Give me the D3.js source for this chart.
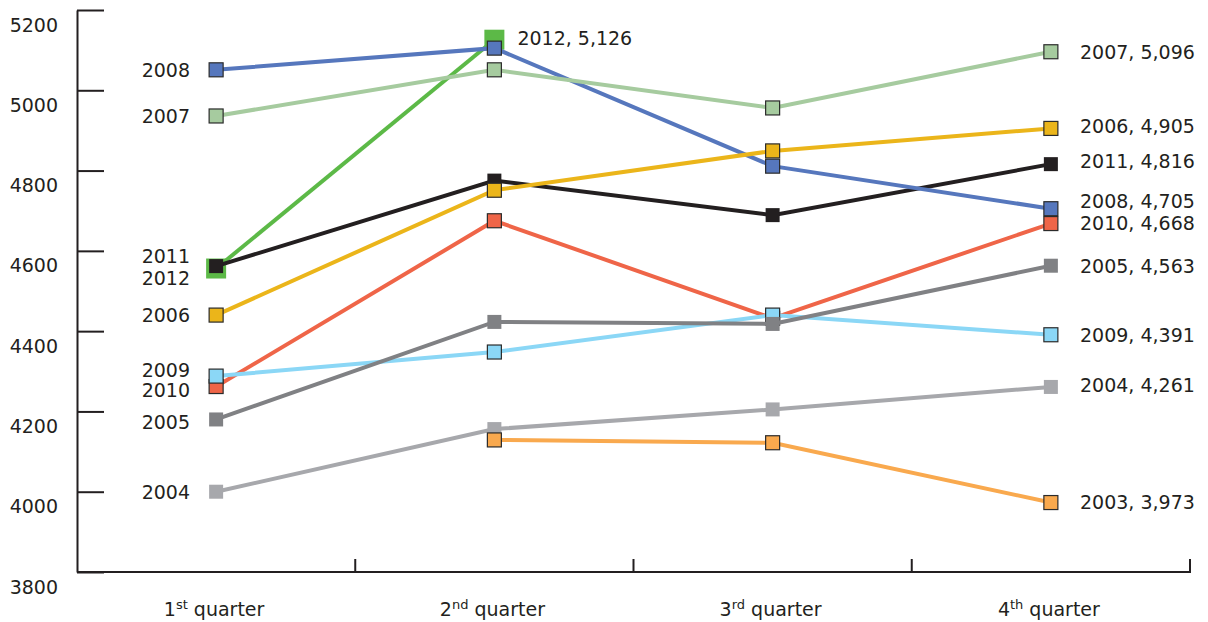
<!DOCTYPE html>
<html lang="en">
  <head>
    <meta charset="UTF-8" />
    <title>Quarterly values by year</title>
    <script src="https://d3js.org/d3.v7.min.js"></script>
    <style>
      html,
      body {
        margin: 0;
        padding: 0;
        background: #ffffff;
      }
      text {
        font-family: "DejaVu Sans", Verdana, sans-serif;
        fill: #231f20;
      }
    </style>
  </head>
  <body>
    <div id="viz"></div>
    <script>
      // data
      const quarters = ["1st", "2nd", "3rd", "4th"];
      const quarterSup = ["st", "nd", "rd", "th"];
      const quarterNum = ["1", "2", "3", "4"];
      const yTicks = [3800, 4000, 4200, 4400, 4600, 4800, 5000, 5200];

      const years = ["2003", "2004", "2005", "2006", "2007", "2008", "2009", "2010", "2011", "2012"];
      const v2003 = [null, 4129, 4122, 3973];
      const v2004 = [4000, 4156, 4205, 4261];
      const v2005 = [4180, 4423, 4418, 4563];
      const v2006 = [4440, 4751, 4849, 4905];
      const v2007 = [4936, 5051, 4956, 5096];
      const v2008 = [5051, 5105, 4811, 4705];
      const v2009 = [4288, 4348, 4440, 4391];
      const v2010 = [4262, 4675, 4432, 4668];
      const v2011 = [4562, 4775, 4689, 4816];
      const v2012 = [4556, 5126, null, null];
      const values = [v2003, v2004, v2005, v2006, v2007, v2008, v2009, v2010, v2011, v2012];

      // styling per year
      const colors = ["#f9a94e", "#a7a8ac", "#808184", "#ebb51a", "#a6cb9f", "#5677bd", "#8bd7f6", "#ef6548", "#231f20", "#5cb947"];
      const bordered = [true, false, false, true, true, true, true, true, false, false];
      const markerSize = [14, 14, 14, 14, 14, 14, 14, 14, 14, 20];
      // small vertical nudges so crowded labels don't collide
      const leftNudge = { 2011: -10, 2012: 10, 2009: -6, 2010: 4, 2005: 3 };
      const rightNudge = { 2008: -8, 2006: -2, 2011: -3, 2004: -2 };

      const width = 1208;
      const height = 622;

      const svg = d3
        .select("#viz")
        .append("svg")
        .attr("width", width)
        .attr("height", height);

      const x = d3.scaleBand().domain(quarters).range([77, 1190]).paddingInner(0).paddingOuter(0);
      const y = d3.scaleLinear().domain([3800, 5200]).range([572, 10]);
      const cx = (q) => x(q) + x.bandwidth() / 2;

      // y axis: ticks point into the plot, labels sit a little below each tick
      const yAxis = d3.axisLeft(y).tickValues(yTicks).tickSizeInner(-27).tickSizeOuter(0).tickPadding(19).tickFormat(d3.format("d"));
      const gy = svg.append("g").attr("transform", "translate(77,0)").call(yAxis);
      gy.selectAll("path, line").attr("stroke", "#231f20").attr("stroke-width", 2);
      gy.selectAll("text")
        .attr("dy", 21)
        .style("font-size", "19px")
        .style("font-family", "DejaVu Sans, sans-serif")
        .attr("fill", "#231f20");

      // x axis: baseline with small upward ticks at the band edges
      const gx = svg.append("g");
      gx.append("line")
        .attr("x1", 77)
        .attr("x2", 1191)
        .attr("y1", y(3800))
        .attr("y2", y(3800))
        .attr("stroke", "#231f20")
        .attr("stroke-width", 2);
      gx.selectAll("line.tick")
        .data(quarters)
        .join("line")
        .attr("class", "tick")
        .attr("x1", (d) => x(d) + x.bandwidth())
        .attr("x2", (d) => x(d) + x.bandwidth())
        .attr("y1", y(3800))
        .attr("y2", y(3800) - 13)
        .attr("stroke", "#231f20")
        .attr("stroke-width", 2);

      const qLabels = gx
        .selectAll("text.q")
        .data(quarters)
        .join("text")
        .attr("class", "q")
        .attr("x", (d) => cx(d) - 2)
        .attr("y", 616)
        .attr("text-anchor", "middle")
        .style("font-size", "19px");
      qLabels.append("tspan").text((d, i) => quarterNum[i]);
      qLabels
        .append("tspan")
        .attr("dy", -7)
        .style("font-size", "13px")
        .text((d, i) => quarterSup[i]);
      qLabels
        .append("tspan")
        .attr("dy", 7)
        .text(" quarter");

      const line = d3
        .line()
        .defined((d) => d.v !== null)
        .x((d) => cx(d.q))
        .y((d) => y(d.v));

      // later years first so earlier ones end up on top
      const order = d3.range(years.length).reverse();

      order.forEach((i) => {
        const pts = quarters.map((q, j) => ({ q: q, v: values[i][j] }));
        const g = svg.append("g");
        g.append("path")
          .datum(pts)
          .attr("d", line)
          .attr("fill", "none")
          .attr("stroke", colors[i])
          .attr("stroke-width", 4);

        const s = markerSize[i];
        g.selectAll("rect")
          .data(pts.filter((d) => d.v !== null))
          .join("rect")
          .attr("x", (d) => cx(d.q) - s / 2)
          .attr("y", (d) => y(d.v) - s / 2)
          .attr("width", s)
          .attr("height", s)
          .attr("fill", colors[i])
          .attr("stroke", bordered[i] ? "#2b2b2b" : "none")
          .attr("stroke-width", 1.2);
      });

      // year labels on the left at the first point
      years.forEach((yr, i) => {
        const v = values[i][0];
        if (v === null) return;
        svg
          .append("text")
          .attr("x", 190)
          .attr("y", y(v) + (leftNudge[yr] || 0))
          .attr("dy", "0.36em")
          .attr("text-anchor", "end")
          .style("font-size", "19px")
          .text(yr);
      });

      // value labels on the right at each series' last point
      const fmt = d3.format(",");
      years.forEach((yr, i) => {
        let j = values[i].length - 1;
        while (values[i][j] === null) j--;
        const v = values[i][j];
        const lx = j === 3 ? 1080 : cx(quarters[j]) + 23;
        svg
          .append("text")
          .attr("x", lx)
          .attr("y", y(v) + (rightNudge[yr] || 0) - (j === 3 ? 0 : 2))
          .attr("dy", "0.36em")
          .style("font-size", "19px")
          .text(yr + ", " + fmt(v));
      });
    </script>
  </body>
</html>
